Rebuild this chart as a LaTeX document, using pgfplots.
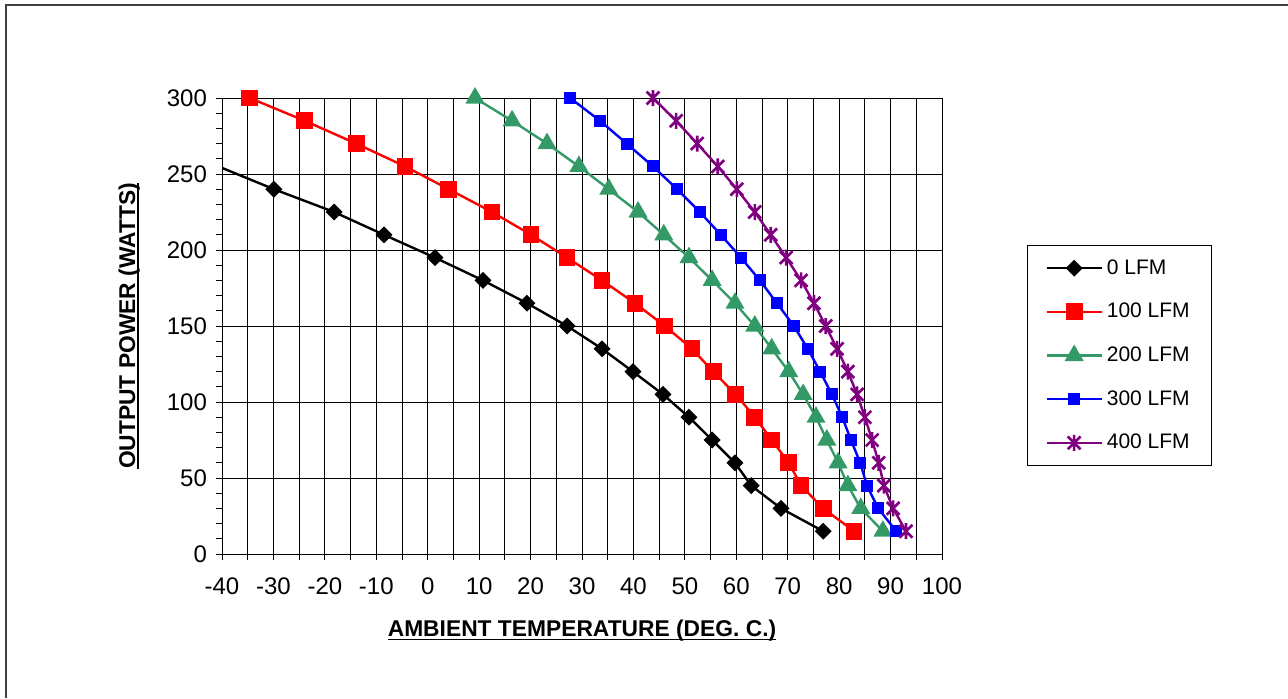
\documentclass[border=0pt]{standalone}
\usepackage{pgfplots}
\pgfplotsset{compat=1.18}
\usepackage{fontspec}
\setmainfont{Liberation Sans}
\definecolor{sgreen}{HTML}{339966}
\definecolor{purp}{HTML}{800080}
\definecolor{framegray}{HTML}{404040}

% underline sitting close below the baseline
\newcommand\ul[1]{\setbox0\hbox{#1}\rlap{\rule[-1.9pt]{\wd0}{0.9pt}}\box0}

% X with a vertical bar, like the spreadsheet star marker
\pgfdeclareplotmark{xstar}{%
  \pgfpathmoveto{\pgfqpoint{-0.8\pgfplotmarksize}{-0.8\pgfplotmarksize}}%
  \pgfpathlineto{\pgfqpoint{0.8\pgfplotmarksize}{0.8\pgfplotmarksize}}%
  \pgfpathmoveto{\pgfqpoint{-0.8\pgfplotmarksize}{0.8\pgfplotmarksize}}%
  \pgfpathlineto{\pgfqpoint{0.8\pgfplotmarksize}{-0.8\pgfplotmarksize}}%
  \pgfpathmoveto{\pgfqpoint{0pt}{-\pgfplotmarksize}}%
  \pgfpathlineto{\pgfqpoint{0pt}{\pgfplotmarksize}}%
  \pgfusepathqstroke}

\begin{document}
\begin{tikzpicture}
\path[use as bounding box] (0pt,0pt) rectangle (644pt,-349pt);
% outer frame (top and left only)
\draw[framegray, line width=1pt] (2.5pt,-2.25pt) -- (644pt,-2.25pt);
\draw[framegray, line width=0.7pt] (3pt,-2.25pt) -- (3pt,-349pt);

\begin{axis}[
    at={(111pt,-277pt)}, anchor=south west,
    scale only axis, width=360pt, height=228pt,
    xmin=-40, xmax=100, ymin=0, ymax=300,
    xtick={-40,-30,...,100}, ytick={0,50,...,300},
    minor x tick num=1, minor y tick num=4,
    xmajorgrids, xminorgrids, ymajorgrids,
    grid style={black, line width=0.5pt},
    minor grid style={black, line width=0.5pt},
    tick align=outside, tick pos=left,
    major tick length=3pt, minor tick length=3pt,
    tick style={black, line width=0.5pt},
    axis line style={black, line width=0.5pt},
    /pgf/number format/assume math mode=true,
    tick label style={font=\fontsize{12}{14}\selectfont},
    xticklabel style={yshift=-5.5pt},
    yticklabel style={xshift=-1pt},
    xlabel={\ul{\textbf{AMBIENT TEMPERATURE (DEG. C.)}}},
    ylabel={\ul{\textbf{OUTPUT POWER (WATTS)}}},
    label style={font=\fontsize{11.4}{13}\selectfont},
    xlabel style={at={(axis description cs:0.5,-0.168)}, anchor=center},
    ylabel style={at={(axis description cs:-0.129,0.5)}, anchor=center},
    clip mode=individual,
    legend style={at={(1.118,0.678)}, anchor=north west, draw=black,
        line width=0.5pt, font=\fontsize{10.5}{12}\selectfont,
        inner xsep=9pt, inner ysep=5pt, row sep=9pt},
    legend cell align=left,
    legend image code/.code={
        \draw[#1, mark=none] (0pt,0pt) -- (27.5pt,0pt);
        \path[#1, mark indices={}] plot coordinates {(13.75pt,0pt)};
    },
]

\addplot[black, line width=1.2pt, mark=square*, mark size=2.4pt,
    mark options={rotate=45, solid}, mark indices={1,...,16}] coordinates {
    (-40.7,255) (-29.9,240) (-18.2,225) (-8.5,210) (1.4,195) (10.75,180)
    (19.3,165) (27.1,150) (33.9,135) (39.9,120) (45.75,105) (50.8,90)
    (55.3,75) (59.75,60) (62.9,45) (68.7,30) (76.9,15)
};
\addlegendentry{0 LFM}

\addplot[red, line width=1.2pt, mark=square*, mark size=3.6pt] coordinates {
    (-34.6,300) (-23.9,285) (-13.9,270) (-4.4,255) (4.1,240) (12.5,225)
    (20.1,210) (27.1,195) (33.9,180) (40.3,165) (46.1,150) (51.4,135)
    (55.5,120) (59.9,105) (63.6,90) (66.9,75) (70.2,60) (72.6,45)
    (76.9,30) (82.9,15)
};
\addlegendentry{100 LFM}

\addplot[sgreen, line width=1.2pt, mark=triangle*, mark size=4.3pt] coordinates {
    (9.2,300) (16.4,285) (23.2,270) (29.4,255) (35.2,240) (40.9,225)
    (45.9,210) (50.8,195) (55.3,180) (59.75,165) (63.6,150) (66.9,135)
    (70.2,120) (73,105) (75.5,90) (77.6,75) (79.8,60) (81.7,45)
    (84.2,30) (88.5,15)
};
\addlegendentry{200 LFM}

\addplot[blue, line width=1.2pt, mark=square*, mark size=2.4pt] coordinates {
    (27.7,300) (33.5,285) (38.7,270) (43.8,255) (48.5,240) (52.9,225)
    (57,210) (60.9,195) (64.6,180) (67.9,165) (71.2,150) (73.9,135)
    (76.3,120) (78.6,105) (80.6,90) (82.3,75) (84.1,60) (85.4,45)
    (87.6,30) (91.1,15)
};
\addlegendentry{300 LFM}

\addplot[purp, line width=1.2pt, mark=xstar, mark size=4pt,
    mark options={line width=1.3pt}] coordinates {
    (43.8,300) (48.3,285) (52.4,270) (56.4,255) (60.1,240) (63.6,225)
    (66.7,210) (69.7,195) (72.6,180) (75.1,165) (77.4,150) (79.6,135)
    (81.7,120) (83.5,105) (85,90) (86.4,75) (87.7,60) (88.7,45)
    (90.5,30) (93,15)
};
\addlegendentry{400 LFM}

\end{axis}
\end{tikzpicture}
\end{document}
